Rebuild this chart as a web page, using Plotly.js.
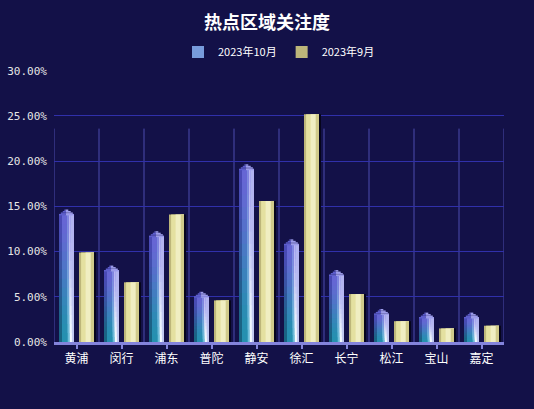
<!DOCTYPE html>
<html>
<head>
<meta charset="utf-8">
<script src="https://cdn.plot.ly/plotly-3.0.1.min.js"></script>
<style>html,body{margin:0;padding:0;background:#131148;}#chart{width:534px;height:409px;}</style>
</head>
<body>
<div id="chart"></div>
<script>
// ---- data ----
const categories = ['黄浦','闵行','浦东','普陀','静安','徐汇','长宁','松江','宝山','嘉定'];
const seriesNames = ['2023年10月','2023年9月'];
const oct2023 = [0.140, 0.078, 0.116, 0.049, 0.190, 0.107, 0.073, 0.030, 0.026, 0.026];
const sep2023 = [0.099, 0.066, 0.141, 0.046, 0.156, 0.252, 0.053, 0.023, 0.015, 0.018];

// ---- styling helpers ----
function hex2rgb(h){h=h.replace('#','');return [0,2,4].map(i=>parseInt(h.substr(i,2),16));}
function mix(a,b,t){const A=hex2rgb(a),B=hex2rgb(b);return 'rgb('+A.map((v,i)=>Math.round(v+(B[i]-v)*t)).join(',')+')';}

const catPx = 45;                 // pixel width of one category
const pxPerUnitY = 272/0.30;      // pixels per y unit
const barW = 15/catPx;            // bar width in category units
const octStart = -0.5 + 5/catPx;  // offset of Oct bar from category center
const sepStart = -0.5 + 25/catPx;

// Oct bar: horizontal stripes + vertical gradient
const octStripes = [0.2, 0.38, 0.14, 0.14, 0.14];
const octBottom = ['#186482','#2590b0','#6cbcd8','#f4faff','#c2caf0'];
const octTop    = ['#4a4ab6','#6666d4','#8282e0','#a4a4ee','#b2b2f0'];
const nSeg = 14;

// Oct bar bevelled cap (steps: [left, right] fraction of bar width)
const capSteps = [[0.0, 1.0], [0.12, 0.92], [0.25, 0.78], [0.36, 0.62]];
const capStepPx = 1.5;

// Sep bar: horizontal stripes
const sepStripes = [0.14, 0.30, 0.34, 0.22];
const sepColors  = ['#bdb67a','#e4e0a0','#f0eec2','#d0ca8a'];

const traces = [];

// shadow behind Sep bars
traces.push({
  type:'bar', x:categories, y:sep2023, offset: sepStart + 2/catPx, width: barW,
  marker:{color:'#06051c', line:{width:0}}, showlegend:false, hoverinfo:'skip'
});

// Oct body
let acc = 0;
octStripes.forEach((fw, si) => {
  for (let k = 0; k < nSeg; k++) {
    const t0 = k / nSeg;
    let t = (k + 0.5) / nSeg;
    t = t*t*(3-2*t);
    traces.push({
      type:'bar', x:categories,
      base: oct2023.map(v => v * t0),
      y: oct2023.map(v => v * (1 - t0)),
      offset: octStart + acc * barW, width: (1 - acc) * barW,
      marker:{color: mix(octBottom[si], octTop[si], t), line:{width:0}},
      name: seriesNames[0], legendgroup:'oct',
      showlegend: (si === 2 && k === Math.floor(nSeg*0.55)),
      hoverinfo:'skip'
    });
  }
  acc += fw;
});

// Oct cap
capSteps.forEach((st, i) => {
  const h = capStepPx / pxPerUnitY;
  const mid = (st[0] + st[1]) / 2 - 0.05;
  [[st[0], mid, '#5e5ecc'], [mid, st[1], '#9c9cea']].forEach(p => {
    traces.push({
      type:'bar', x:categories,
      base: oct2023.map(v => v + i * h * 0.98),
      y: oct2023.map(() => h),
      offset: octStart + p[0] * barW, width: (p[1] - p[0]) * barW,
      marker:{color:p[2], line:{width:0}}, showlegend:false, hoverinfo:'skip'
    });
  });
});

acc = 0;
sepStripes.forEach((fw, si) => {
  traces.push({
    type:'bar', x:categories, y:sep2023,
    offset: sepStart + acc * barW, width: (1 - acc) * barW,
    marker:{color: sepColors[si], line:{width:0}},
    name: seriesNames[1], legendgroup:'sep',
    showlegend: si === 0,
    hoverinfo:'skip'
  });
  acc += fw;
});

// vertical back-wall lines at category boundaries
const shapes = [];
for (let i = 0; i <= categories.length; i++) {
  shapes.push({type:'line', xref:'x', yref:'y', x0:i-0.5, x1:i-0.5, y0:0, y1:0.236,
    line:{color:'#4c4cae', width:1}, layer:'below'});
}

const layout = {
  width:534, height:409,
  margin:{l:54, r:30, t:70, b:67},
  paper_bgcolor:'#131148', plot_bgcolor:'#131148',
  barmode:'overlay',
  title:{text:'热点区域关注度', x:0.5, xanchor:'center', y:0.944, yanchor:'middle',
    font:{family:'Noto Sans CJK SC', size:18, color:'#ffffff', weight:'bold'}},
  legend:{orientation:'h', x:0.5, xanchor:'center', y:1.066, yanchor:'middle',
    font:{family:'Noto Sans CJK SC', size:11, color:'#ffffff'}, bgcolor:'rgba(0,0,0,0)',
    itemwidth:30, traceorder:'normal'},
  xaxis:{type:'category', categoryorder:'array', categoryarray:categories, range:[-0.5, 9.5],
    showline:true, linecolor:'#8484dc', linewidth:3, ticks:'outside', tickcolor:'#8484dc',
    ticklen:4, tickwidth:2, showgrid:false, zeroline:false,
    tickfont:{family:'Noto Sans CJK SC', size:12, color:'#ffffff'}},
  yaxis:{range:[0, 0.3008], tickvals:[0,0.05,0.10,0.15,0.20,0.25,0.30], tickformat:'.2%',
    showgrid:true, gridcolor:'#3030aa',
    gridwidth:1, zeroline:false, showline:false, ticks:'', ticklabelstandoff:6,
    tickfont:{family:'DejaVu Sans Mono', size:11, color:'#e6e6e6'}},
  shapes:shapes,
  showlegend:true
};

Plotly.newPlot('chart', traces, layout, {displayModeBar:false, staticPlot:true});
</script>
</body>
</html>
